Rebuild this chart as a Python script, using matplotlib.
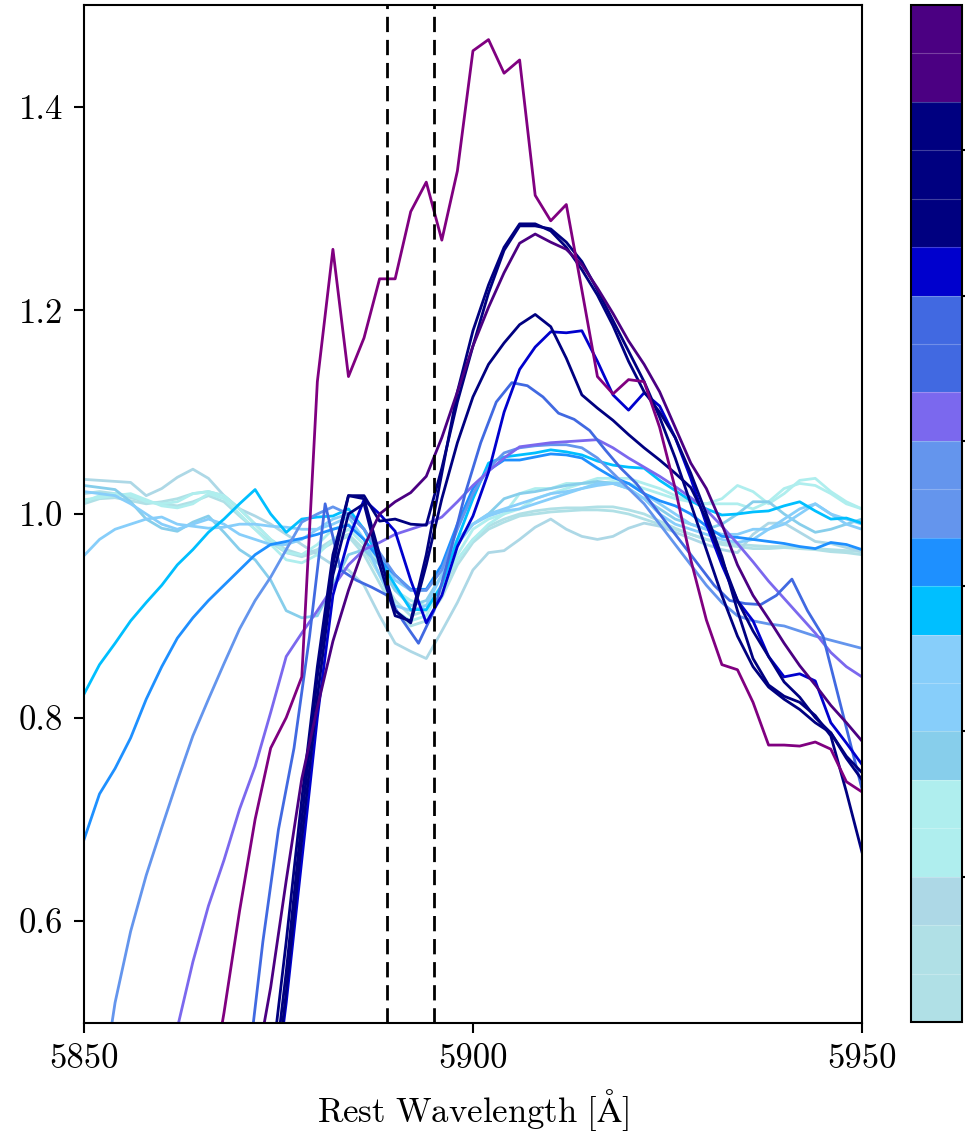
import numpy as np
import matplotlib
matplotlib.use("Agg")
import matplotlib.pyplot as plt
from matplotlib.colors import ListedColormap, BoundaryNorm
from matplotlib.colorbar import ColorbarBase

plt.rcParams["font.family"] = "serif"
plt.rcParams["font.serif"] = ["cmr10"]
plt.rcParams["mathtext.fontset"] = "cm"
plt.rcParams["axes.unicode_minus"] = False

# colour sequence of the epochs (bottom -> top of the colour bar)
epoch_colors = [
    "powderblue", "powderblue", "lightblue", "paleturquoise", "paleturquoise",
    "skyblue", "lightskyblue", "lightskyblue", "deepskyblue", "dodgerblue",
    "cornflowerblue", "cornflowerblue", "mediumslateblue", "royalblue", "royalblue",
    "mediumblue", "navy", "navy", "navy", "indigo", "indigo",
]

# normalised flux, sampled every 2 A from the given start wavelength
powderblue_1 = (5850, [1.01, 1.015, 1.016, 1.013, 1.01, 1.012, 1.015, 1.02, 1.022, 1.018,
                       1.005, 0.99, 0.975, 0.965, 0.96, 0.965, 0.975, 0.98, 0.965, 0.94,
                       0.915, 0.9, 0.905, 0.925, 0.955, 0.975, 0.988, 0.995, 1.0, 1.003,
                       1.005, 1.006, 1.006, 1.007, 1.007, 1.004, 1.0, 0.993, 0.986, 0.98,
                       0.975, 0.972, 0.97, 0.969, 0.968, 0.968, 0.967, 0.966, 0.965, 0.964, 0.963])
powderblue_2 = (5850, [1.02, 1.022, 1.02, 1.016, 1.012, 1.01, 1.008, 1.012, 1.018, 1.012,
                       0.998, 0.985, 0.972, 0.962, 0.958, 0.963, 0.972, 0.978, 0.96, 0.932,
                       0.905, 0.89, 0.895, 0.918, 0.95, 0.972, 0.985, 0.992, 0.998, 1.0,
                       1.002, 1.003, 1.004, 1.004, 1.003, 1.0, 0.995, 0.99, 0.985, 0.98,
                       0.975, 0.97, 0.968, 0.966, 0.966, 0.967, 0.966, 0.965, 0.963, 0.962, 0.96])
lightblue_1 = (5850, [1.034, 1.033, 1.032, 1.031, 1.018, 1.025, 1.036, 1.044, 1.035, 1.018,
                      1.005, 0.998, 0.99, 0.98, 0.97, 0.96, 0.95, 0.945, 0.93, 0.9,
                      0.873, 0.865, 0.858, 0.885, 0.913, 0.945, 0.962, 0.964, 0.975, 0.987,
                      0.995, 0.985, 0.978, 0.975, 0.978, 0.986, 0.991, 0.988, 0.982, 0.976,
                      0.97, 0.965, 0.962, 0.98, 0.991, 0.991, 0.982, 0.973, 0.971, 0.967, 0.963])
paleturquoise_1 = (5850, [1.012, 1.018, 1.02, 1.018, 1.012, 1.01, 1.012, 1.02, 1.022, 1.018,
                          1.005, 0.99, 0.975, 0.962, 0.96, 0.97, 0.985, 0.99, 0.975, 0.95,
                          0.925, 0.915, 0.91, 0.93, 0.955, 0.975, 0.99, 1.0, 1.02, 1.025,
                          1.025, 1.03, 1.03, 1.035, 1.035, 1.035, 1.03, 1.025, 1.018, 1.012,
                          1.01, 1.015, 1.028, 1.022, 1.01, 1.02, 1.033, 1.035, 1.022, 1.012, 1.005])
paleturquoise_2 = (5850, [1.014, 1.016, 1.018, 1.02, 1.014, 1.008, 1.006, 1.01, 1.02, 1.015,
                          1.0, 0.985, 0.97, 0.955, 0.952, 0.96, 0.975, 0.985, 0.97, 0.94,
                          0.905, 0.895, 0.9, 0.93, 0.96, 0.985, 0.995, 1.0, 1.005, 1.015,
                          1.02, 1.025, 1.03, 1.03, 1.032, 1.03, 1.025, 1.02, 1.015, 1.012,
                          1.01, 1.01, 1.01, 1.005, 1.012, 1.025, 1.03, 1.028, 1.02, 1.01, 1.005])
skyblue_1 = (5850, [1.028, 1.026, 1.024, 1.012, 0.995, 0.986, 0.983, 0.992, 0.998, 0.982,
                    0.965, 0.955, 0.935, 0.905, 0.898, 0.9, 0.93, 0.96, 0.965, 0.95,
                    0.925, 0.91, 0.915, 0.94, 0.975, 0.99, 1.0, 1.015, 1.02, 1.022,
                    1.025, 1.028, 1.03, 1.032, 1.03, 1.025, 1.015, 1.005, 0.995, 0.99,
                    0.985, 0.99, 1.0, 1.012, 1.012, 1.0, 0.99, 0.982, 0.985, 0.99, 0.995])
lightskyblue_1 = (5850, [0.959, 0.975, 0.985, 0.99, 0.995, 0.997, 0.99, 0.988, 0.986, 0.987,
                         0.99, 0.99, 0.988, 0.987, 0.985, 0.985, 0.99, 0.997, 0.975, 0.94,
                         0.91, 0.905, 0.91, 0.94, 0.97, 0.99, 1.0, 1.005, 1.01, 1.015,
                         1.02, 1.022, 1.025, 1.03, 1.03, 1.03, 1.02, 1.01, 1.0, 0.99,
                         0.985, 0.98, 0.98, 0.985, 0.985, 0.99, 1.0, 1.01, 1.0, 0.995, 0.99])
lightskyblue_2 = (5850, [1.022, 1.02, 1.018, 1.01, 1.0, 0.99, 0.985, 0.99, 0.995, 0.99,
                         0.98, 0.975, 0.97, 0.97, 0.975, 0.985, 0.995, 1.0, 0.985, 0.96,
                         0.935, 0.925, 0.925, 0.945, 0.975, 0.99, 0.998, 1.003, 1.005, 1.01,
                         1.015, 1.02, 1.025, 1.028, 1.03, 1.025, 1.015, 1.0, 0.99, 0.985,
                         0.98, 0.975, 0.972, 0.975, 0.985, 0.995, 1.005, 1.01, 1.0, 0.99, 0.985])
deepskyblue_1 = (5850, [0.823, 0.852, 0.873, 0.895, 0.913, 0.93, 0.95, 0.965, 0.982, 0.995,
                        1.01, 1.024, 1.0, 0.982, 0.995, 0.997, 0.998, 1.005, 0.985, 0.955,
                        0.93, 0.906, 0.906, 0.93, 0.975, 1.015, 1.05, 1.056, 1.058, 1.06,
                        1.063, 1.061, 1.058, 1.052, 1.048, 1.046, 1.045, 1.033, 1.023, 1.013,
                        1.005, 0.999, 1.0, 1.002, 1.003, 1.008, 1.012, 1.003, 0.995, 0.996, 0.991])
dodgerblue_1 = (5850, [0.68, 0.725, 0.75, 0.78, 0.818, 0.85, 0.878, 0.898, 0.915, 0.93,
                       0.945, 0.96, 0.97, 0.973, 0.976, 0.98, 0.985, 0.989, 0.975, 0.955,
                       0.94, 0.926, 0.926, 0.95, 0.99, 1.025, 1.043, 1.053, 1.053, 1.056,
                       1.059, 1.058, 1.055, 1.045, 1.036, 1.03, 1.02, 1.013, 1.008, 1.0,
                       0.988, 0.978, 0.977, 0.975, 0.973, 0.971, 0.968, 0.966, 0.972, 0.97, 0.965])
cornflowerblue_1 = (5852, [0.42, 0.52, 0.59, 0.645, 0.692, 0.738, 0.782, 0.818, 0.853, 0.887,
                           0.915, 0.938, 0.965, 0.992, 1.0, 1.007, 1.0, 0.985, 0.962, 0.94,
                           0.925, 0.925, 0.945, 0.985, 1.02, 1.045, 1.06, 1.065, 1.067, 1.068,
                           1.068, 1.065, 1.055, 1.04, 1.025, 1.01, 0.99, 0.97, 0.95, 0.93,
                           0.913, 0.9, 0.895, 0.892, 0.89, 0.885, 0.88, 0.876, 0.872, 0.868])
mediumslateblue_1 = (5860, [0.44, 0.495, 0.56, 0.615, 0.66, 0.71, 0.752, 0.805, 0.86, 0.883,
                            0.905, 0.928, 0.95, 0.965, 0.972, 0.98, 0.985, 0.99, 0.997, 1.012,
                            1.028, 1.042, 1.055, 1.066, 1.068, 1.07, 1.071, 1.072, 1.073, 1.065,
                            1.055, 1.046, 1.037, 1.027, 1.016, 1.004, 0.988, 0.971, 0.953, 0.934,
                            0.917, 0.9, 0.883, 0.864, 0.85, 0.84])
royalblue_1 = (5871, [0.45, 0.58, 0.69, 0.77, 0.88, 1.01, 0.945, 0.935, 0.928, 0.92,
                      0.895, 0.873, 0.905, 0.96, 1.02, 1.07, 1.11, 1.129, 1.126, 1.115,
                      1.099, 1.093, 1.082, 1.063, 1.045, 1.03, 1.01, 0.99, 0.97, 0.95,
                      0.93, 0.915, 0.912, 0.911, 0.92, 0.936, 0.905, 0.88, 0.82, 0.76, 0.70])
mediumblue_1 = (5874, [0.40, 0.52, 0.66, 0.80, 0.92, 0.975, 1.014, 1.0, 0.983, 0.935,
                       0.893, 0.92, 0.968, 0.998, 1.041, 1.10, 1.142, 1.164, 1.179, 1.178,
                       1.18, 1.15, 1.117, 1.102, 1.119, 1.106, 1.075, 1.035, 0.99, 0.95,
                       0.915, 0.895, 0.86, 0.84, 0.843, 0.836, 0.795, 0.775, 0.754])
navy_1 = (5874, [0.45, 0.58, 0.72, 0.85, 0.96, 1.018, 1.018, 0.993, 0.995, 0.99,
                 0.989, 1.045, 1.11, 1.165, 1.217, 1.259, 1.283, 1.283, 1.28, 1.267,
                 1.248, 1.22, 1.19, 1.16, 1.13, 1.095, 1.055, 1.01, 0.965, 0.92,
                 0.88, 0.85, 0.83, 0.818, 0.808, 0.795, 0.785, 0.762, 0.746])
navy_2 = (5874, [0.42, 0.55, 0.70, 0.84, 0.95, 1.018, 1.015, 0.96, 0.905, 0.893,
                 0.95, 1.015, 1.07, 1.115, 1.147, 1.168, 1.186, 1.196, 1.184, 1.153,
                 1.117, 1.104, 1.092, 1.078, 1.065, 1.053, 1.04, 1.026, 0.995, 0.955,
                 0.915, 0.885, 0.86, 0.835, 0.82, 0.80, 0.785, 0.76, 0.739])
navy_3 = (5874, [0.40, 0.53, 0.68, 0.82, 0.94, 1.0, 1.01, 0.95, 0.90, 0.895,
                 0.96, 1.04, 1.12, 1.18, 1.225, 1.262, 1.285, 1.285, 1.278, 1.262,
                 1.24, 1.215, 1.185, 1.15, 1.12, 1.1, 1.075, 1.04, 1.0, 0.958,
                 0.905, 0.858, 0.832, 0.821, 0.815, 0.802, 0.782, 0.727, 0.668])
indigo_1 = (5872, [0.45, 0.535, 0.64, 0.74, 0.81, 0.875, 0.925, 0.968, 1.0, 1.012,
                   1.021, 1.037, 1.075, 1.12, 1.165, 1.203, 1.237, 1.266, 1.275, 1.267,
                   1.26, 1.245, 1.222, 1.197, 1.17, 1.147, 1.12, 1.085, 1.05, 1.025,
                   0.99, 0.95, 0.92, 0.897, 0.873, 0.851, 0.832, 0.812, 0.795, 0.777])
purple_1 = (5866, [0.42, 0.51, 0.61, 0.70, 0.77, 0.80, 0.84, 1.13, 1.26, 1.135,
                   1.173, 1.231, 1.231, 1.297, 1.326, 1.269, 1.337, 1.455, 1.466, 1.433,
                   1.446, 1.313, 1.288, 1.304, 1.22, 1.135, 1.118, 1.132, 1.130, 1.085,
                   1.025, 0.955, 0.896, 0.852, 0.847, 0.815, 0.773, 0.773, 0.772, 0.776,
                   0.769, 0.737, 0.727])

spectra = [
    (powderblue_1, "powderblue"), (powderblue_2, "powderblue"), (lightblue_1, "lightblue"),
    (paleturquoise_1, "paleturquoise"), (paleturquoise_2, "paleturquoise"),
    (skyblue_1, "skyblue"), (lightskyblue_1, "lightskyblue"), (lightskyblue_2, "lightskyblue"),
    (deepskyblue_1, "deepskyblue"), (dodgerblue_1, "dodgerblue"),
    (cornflowerblue_1, "cornflowerblue"), (mediumslateblue_1, "mediumslateblue"),
    (royalblue_1, "royalblue"), (mediumblue_1, "mediumblue"),
    (navy_1, "navy"), (navy_2, "navy"), (navy_3, "navy"),
    (indigo_1, "indigo"), (purple_1, "purple"),
]

na_d_lines = [5889.0, 5895.0]

fig = plt.figure(figsize=(9.65, 11.35), dpi=100)
ax = fig.add_axes([0.087, 0.0987, 0.8062, 0.8969])
cax = fig.add_axes([0.944, 0.0996, 0.0528, 0.8960])

for (start, flux), color in spectra:
    wave = start + 2.0 * np.arange(len(flux))
    ax.plot(wave, flux, color=color, lw=2.0)

for w in na_d_lines:
    ax.axvline(w, color="black", lw=2.0, ls=(0, (5.5, 2.8)))

ax.set_xlim(5850, 5950)
ax.set_ylim(0.5, 1.5)
ax.set_xticks([5850, 5900, 5950])
ax.set_yticks([0.6, 0.8, 1.0, 1.2, 1.4])
ax.tick_params(labelsize=25, length=7, width=1.5, pad=8)
ax.set_xlabel(r"$\mathrm{Rest\ Wavelength\ [\AA]}$", fontsize=25, labelpad=8)
for s in ax.spines.values():
    s.set_linewidth(1.5)

cmap = ListedColormap(epoch_colors)
norm = BoundaryNorm(np.arange(len(epoch_colors) + 1), cmap.N)
cb = ColorbarBase(cax, cmap=cmap, norm=norm, orientation="vertical", drawedges=True)
cb.dividers.set_color((1, 1, 1, 0.25))
cb.dividers.set_linewidth(0.8)
cb.set_ticks([3, 6, 9, 12, 15, 18])
cb.minorticks_off()
cb.ax.set_yticklabels([])
cb.ax.tick_params(length=7, width=1.5)
cb.outline.set_linewidth(1.5)

fig.savefig("out.png", dpi=100)
